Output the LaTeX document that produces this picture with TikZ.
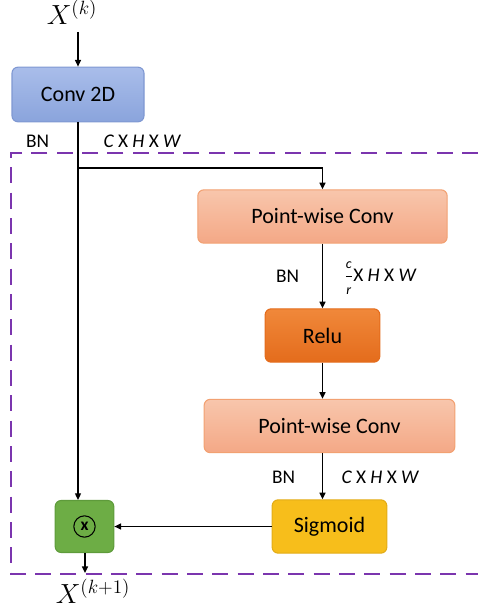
\documentclass[tikz,border=0pt]{standalone}
\usepackage{fontspec}
\setmainfont{Carlito}
\usetikzlibrary{arrows.meta}
\definecolor{dashpurple}{HTML}{7B35AE}
\definecolor{convtop}{HTML}{A9BDEA}
\definecolor{convbot}{HTML}{8AA4DC}
\definecolor{convline}{HTML}{7F98D2}
\definecolor{pwtop}{HTML}{F8C6AC}
\definecolor{pwbot}{HTML}{F4A886}
\definecolor{pwline}{HTML}{F2A172}
\definecolor{relutop}{HTML}{F0883A}
\definecolor{relubot}{HTML}{E46C1C}
\definecolor{sigfill}{HTML}{F7BE1B}
\definecolor{sigline}{HTML}{E3AC17}
\definecolor{multfill}{HTML}{6DAD45}
\definecolor{multline}{HTML}{5E9B3B}
\newcommand{\dimtxt}{\itshape C\upshape~X~\itshape H\upshape~X~\itshape W}
\newcommand{\fracpart}[1]{\textit{\fontsize{10.5}{10.5}\selectfont #1}}
\begin{document}
\begin{tikzpicture}[x=0.75pt,y=-0.75pt,
    block/.style={rounded corners=4.5pt,line width=0.8pt,align=center,
      font=\fontsize{16.5}{20}\selectfont,inner sep=0pt},
    convblock/.style={block,draw=convline,top color=convtop,
      bottom color=convbot,minimum width=99pt,minimum height=41pt},
    pwblock/.style={block,draw=pwline,top color=pwtop,
      bottom color=pwbot,minimum width=187pt,minimum height=40pt},
    lbl/.style={font=\fontsize{14.5}{16}\selectfont},
    mathlbl/.style={font=\fontsize{20}{22}\selectfont},
  ]
  \useasboundingbox (0,0) rectangle (478,608);
  % frame round the attention part
  \draw[dashpurple,line width=1.6pt,dash pattern=on 12pt off 7pt]
    (478,153) -- (11,153) -- (11,574) -- (478,574);
  \node[mathlbl] (xin) at (72,12) {$X^{(k)}$};
  \node[convblock] (conv) at (78,94.5) {Conv 2D};
  \node[pwblock] (pw1) at (322.5,216.5) {Point-wise Conv};
  \node[block,draw=relubot,top color=relutop,bottom color=relubot,
    minimum width=86pt,minimum height=40pt] (relu) at (322.5,335.5) {Relu};
  \node[pwblock,minimum width=188pt] (pw2) at (329.5,426) {Point-wise Conv};
  \node[block,draw=sigline,fill=sigfill,
    minimum width=86pt,minimum height=40pt] (sig) at (329.5,526.5) {Sigmoid};
  \node[block,draw=multline,fill=multfill,
    minimum width=44pt,minimum height=39pt] (mult) at (84.5,526.5) {};
  \node[circle,draw,line width=0.8pt,inner sep=0pt,minimum size=16pt,
    font=\fontsize{13}{13}\selectfont\bfseries] (times) at (mult.center) {x};
  \node[mathlbl] (xout) at (93,591) {$X^{(k+1)}$};
  \node[lbl] (bn1) at (37.5,141) {BN};
  \node[lbl] (dim1) at (142,141) {\dimtxt};
  \node[lbl] (bn2) at (287.5,276) {BN};
  \node[lbl,inner sep=1pt] (dim2) at (380,278)
    {${\displaystyle\frac{\fracpart{c}}{\fracpart{r}}}$X~\itshape H\upshape~X~\itshape W};
  \node[lbl] (bn3) at (283.5,477) {BN};
  \node[lbl] (dim3) at (380,477) {\dimtxt};
  \coordinate (split) at (78,168);
  \coordinate (out) at (85,573);
  \begin{scope}[line width=1pt,-{Triangle[length=5pt,width=4.5pt]}]
    \draw (xin.south -| conv) ++(0,3) -- (conv.north);
    \draw (conv.south) -- (conv.south |- mult.north);
    \draw[-] (split) -- (split -| pw1);
    \draw (split -| pw1) -- (pw1.north);
    \draw (pw1.south) -- (relu.north);
    \draw (relu.south) -- (relu.south |- pw2.north);
    \draw (pw2.south -| relu) -- (relu |- sig.north);
    \draw (sig.west) -- (mult.east);
    \draw (mult.south -| out) -- (out);
  \end{scope}
\end{tikzpicture}
\end{document}
